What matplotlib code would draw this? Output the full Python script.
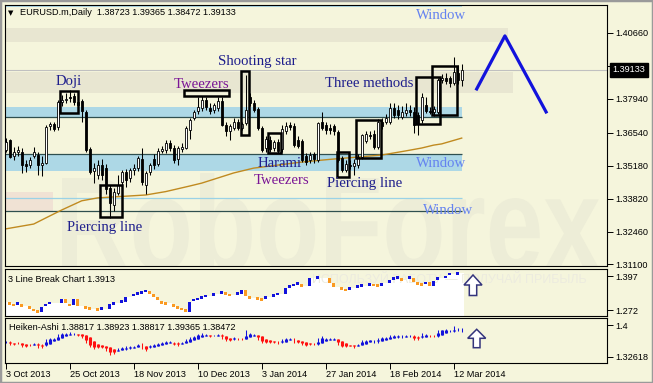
import numpy as np
import matplotlib
matplotlib.use("Agg")
import matplotlib.pyplot as plt
from matplotlib.patches import Rectangle, Polygon, PathPatch
from matplotlib.textpath import TextPath
from matplotlib.font_manager import FontProperties
from matplotlib.transforms import Affine2D

plt.rcParams["font.family"] = ["Liberation Sans", "DejaVu Sans"]

# EURUSD.m daily bars, 3 Oct 2013 .. 14 Mar 2014
opens = [1.3583, 1.3624, 1.3560, 1.3575, 1.3575, 1.3525, 1.3521, 1.3560, 1.3562, 1.3521,
         1.3530, 1.3680, 1.3690, 1.3676, 1.3780, 1.3790, 1.3800, 1.3805, 1.3780, 1.3785,
         1.3740, 1.3585, 1.3495, 1.3480, 1.3520, 1.3510, 1.3425, 1.3356, 1.3405, 1.3450,
         1.3490, 1.3467, 1.3500, 1.3508, 1.3545, 1.3440, 1.3490, 1.3545, 1.3525, 1.3580,
         1.3583, 1.3610, 1.3590, 1.3545, 1.3585, 1.3590, 1.3665, 1.3715, 1.3742, 1.3755,
         1.3790, 1.3755, 1.3748, 1.3755, 1.3785, 1.3686, 1.3660, 1.3675, 1.3700, 1.3675,
         1.3694, 1.3800, 1.3778, 1.3752, 1.3674, 1.3590, 1.3625, 1.3590, 1.3615, 1.3585,
         1.3660, 1.3685, 1.3680, 1.3625, 1.3620, 1.3560, 1.3542, 1.3565, 1.3542, 1.3700,
         1.3686, 1.3675, 1.3680, 1.3657, 1.3550, 1.3500, 1.3522, 1.3515, 1.3521, 1.3555,
         1.3620, 1.3645, 1.3650, 1.3595, 1.3700, 1.3698, 1.3700, 1.3755, 1.3748, 1.3720,
         1.3735, 1.3750, 1.3740, 1.3727, 1.3707, 1.3770, 1.3745, 1.3738, 1.3738, 1.3872,
         1.3882, 1.3880, 1.3860, 1.3900, 1.38723]
highs = [1.3632, 1.3630, 1.3595, 1.3600, 1.3590, 1.3540, 1.3555, 1.3595, 1.3575, 1.3560,
         1.3685, 1.3700, 1.3700, 1.3790, 1.3810, 1.3820, 1.3832, 1.3820, 1.3795, 1.3795,
         1.3750, 1.3595, 1.3530, 1.3540, 1.3545, 1.3525, 1.3440, 1.3425, 1.3480, 1.3500,
         1.3505, 1.3510, 1.3525, 1.3560, 1.3590, 1.3495, 1.3530, 1.3565, 1.3590, 1.3600,
         1.3625, 1.3625, 1.3605, 1.3600, 1.3610, 1.3680, 1.3715, 1.3750, 1.3800, 1.3805,
         1.3800, 1.3775, 1.3775, 1.3800, 1.3800, 1.3700, 1.3690, 1.3715, 1.3710, 1.3700,
         1.3893, 1.3818, 1.3790, 1.3760, 1.3680, 1.3640, 1.3640, 1.3625, 1.3630, 1.3685,
         1.3700, 1.3700, 1.3695, 1.3640, 1.3630, 1.3570, 1.3575, 1.3575, 1.3700, 1.3740,
         1.3700, 1.3690, 1.3690, 1.3665, 1.3560, 1.3540, 1.3540, 1.3545, 1.3565, 1.3650,
         1.3660, 1.3660, 1.3665, 1.3710, 1.3715, 1.3730, 1.3775, 1.3775, 1.3770, 1.3765,
         1.3775, 1.3770, 1.3760, 1.3740, 1.3820, 1.3800, 1.3760, 1.3765, 1.3880, 1.3895,
         1.3900, 1.3890, 1.3967, 1.3935, 1.39365]
lows = [1.3575, 1.3550, 1.3540, 1.3560, 1.3488, 1.3490, 1.3510, 1.3550, 1.3480, 1.3475,
        1.3525, 1.3665, 1.3660, 1.3665, 1.3765, 1.3775, 1.3780, 1.3770, 1.3755, 1.3700,
        1.3575, 1.3485, 1.3445, 1.3465, 1.3460, 1.3400, 1.3300, 1.3330, 1.3395, 1.3440,
        1.3430, 1.3450, 1.3480, 1.3495, 1.3440, 1.3400, 1.3480, 1.3505, 1.3515, 1.3570,
        1.3570, 1.3580, 1.3530, 1.3520, 1.3575, 1.3585, 1.3630, 1.3705, 1.3730, 1.3745,
        1.3750, 1.3730, 1.3735, 1.3745, 1.3680, 1.3640, 1.3624, 1.3665, 1.3665, 1.3665,
        1.3685, 1.3765, 1.3740, 1.3665, 1.3575, 1.3575, 1.3575, 1.3580, 1.3570, 1.3575,
        1.3650, 1.3665, 1.3595, 1.3590, 1.3535, 1.3520, 1.3530, 1.3530, 1.3535, 1.3665,
        1.3650, 1.3650, 1.3645, 1.3535, 1.3490, 1.3490, 1.3505, 1.3480, 1.3510, 1.3545,
        1.3610, 1.3630, 1.3585, 1.3585, 1.3670, 1.3690, 1.3690, 1.3715, 1.3710, 1.3710,
        1.3725, 1.3725, 1.3652, 1.3645, 1.3695, 1.3735, 1.3730, 1.3725, 1.3730, 1.3860,
        1.3855, 1.3845, 1.3850, 1.3855, 1.38472]
closes = [1.3617, 1.3555, 1.3575, 1.3583, 1.3521, 1.3515, 1.3542, 1.3575, 1.3521, 1.3530,
          1.3678, 1.3690, 1.3670, 1.3780, 1.3790, 1.3795, 1.3798, 1.3780, 1.3770, 1.3745,
          1.3583, 1.3490, 1.3510, 1.3520, 1.3480, 1.3420, 1.3365, 1.3410, 1.3440, 1.3490,
          1.3460, 1.3500, 1.3508, 1.3550, 1.3450, 1.3488, 1.3521, 1.3520, 1.3580, 1.3585,
          1.3610, 1.3590, 1.3540, 1.3590, 1.3595, 1.3675, 1.3707, 1.3740, 1.3760, 1.3790,
          1.3760, 1.3745, 1.3768, 1.3785, 1.3686, 1.3660, 1.3680, 1.3700, 1.3675, 1.3690,
          1.3748, 1.3778, 1.3750, 1.3674, 1.3583, 1.3630, 1.3585, 1.3615, 1.3578, 1.3668,
          1.3680, 1.3678, 1.3605, 1.3600, 1.3542, 1.3535, 1.3562, 1.3545, 1.3694, 1.3675,
          1.3665, 1.3665, 1.3660, 1.3542, 1.3500, 1.3525, 1.3517, 1.3530, 1.3555, 1.3645,
          1.3650, 1.3640, 1.3595, 1.3700, 1.3680, 1.3715, 1.3755, 1.3727, 1.3727, 1.3740,
          1.3748, 1.3738, 1.3686, 1.3690, 1.3802, 1.3745, 1.3740, 1.3752, 1.3872, 1.3880,
          1.3866, 1.3860, 1.3905, 1.3872, 1.39133]

# moving average read at some bars
ma_bars = [0, 7, 10, 14, 19, 23, 35, 40, 46, 49, 57, 62, 74, 81, 94, 100, 104, 107, 109, 114]
ma_vals = [1.3257, 1.3277, 1.3302, 1.3335, 1.3373, 1.3385, 1.3397, 1.3411, 1.3434, 1.3446,
           1.3488, 1.3508, 1.3533, 1.3544, 1.3562, 1.3579, 1.3591, 1.3603, 1.3608, 1.3632]

# 3 line break level per bar
lb_vals = [1.3002, 1.2965, 1.2904, 1.2965, 1.2880, 1.2880, 1.2806, 1.2720, 1.2659, 1.2843,
           1.2904, 1.2978, 1.2978, 1.2978, 1.3112, 1.2990, 1.2904, 1.3125, 1.2880, 1.2880,
           1.2806, 1.2769, 1.2769, 1.2745, 1.2769, 1.2769, 1.2929, 1.2965, 1.2965, 1.3027,
           1.3186, 1.3186, 1.3272, 1.3321, 1.3370, 1.3419, 1.3321, 1.3186, 1.3076, 1.3002,
           1.2965, 1.2965, 1.2880, 1.2806, 1.2757, 1.2659, 1.3002, 1.3088, 1.3125, 1.3186,
           1.3235, 1.3235, 1.3296, 1.3296, 1.3357, 1.3321, 1.3272, 1.3272, 1.3321, 1.3455,
           1.3247, 1.3174, 1.3174, 1.3149, 1.3100, 1.3186, 1.3186, 1.3296, 1.3308, 1.3308,
           1.3541, 1.3578, 1.3639, 1.3688, 1.3615, 1.3615, 1.3884, 1.3884, 1.3909, 1.3909,
           1.3909, 1.3700, 1.3578, 1.3578, 1.3517, 1.3455, 1.3517, 1.3517, 1.3578, 1.3615,
           1.3615, 1.3664, 1.3639, 1.3615, 1.3725, 1.3725, 1.3823, 1.3884, 1.3921, 1.3847,
           1.3847, 1.3909, 1.3762, 1.3700, 1.3664, 1.3762, 1.3590, 1.3798, 1.3884, 1.3884,
           1.3982, 1.4044, 1.4044, 1.4068, 1.4068]

# hand drawn forecast zigzag
fc_bars = [117.75, 124.8, 135.1]
fc_prices = [1.3835, 1.4054, 1.3740]

date_ticks = [0, 16, 32, 48, 64, 80, 96, 112]
date_labels = ["3 Oct 2013", "25 Oct 2013", "18 Nov 2013", "10 Dec 2013",
               "3 Jan 2014", "27 Jan 2014", "18 Feb 2014", "12 Mar 2014"]
price_ticks = [1.4066, 1.3930, 1.3794, 1.3654, 1.3518, 1.3382, 1.3246, 1.3110]

W, H = 653, 383
BG = "#f5f5dc"
NAVY = "#1e1e8c"
PURPLE = "#7a1496"
WIN = "#6482f0"
BLUE = "#1212dc"
ORANGE = "#fa9a22"
RED = "#ff1010"

fig = plt.figure(figsize=(W / 100, H / 100), dpi=100, facecolor=BG)
pix = Affine2D().scale(1 / W, -1 / H).translate(0, 1) + fig.transFigure


def py(y):
    # row on the main panel -> price
    return 1.4066 - (y - 33) * 0.000413


def panel(top, bottom):
    a = fig.add_axes([4.5 / W, 1 - bottom / H, 602 / W, (bottom - top) / H])
    a.set_facecolor(BG)
    a.set_xlim(-0.3, 150.2)
    for s in a.spines.values():
        s.set_color("black")
        s.set_linewidth(0.8)
    a.yaxis.tick_right()
    a.tick_params(axis="y", direction="out", length=4, width=0.7, pad=2.5, labelsize=6.6)
    a.tick_params(axis="x", bottom=False, labelbottom=False)
    return a


x = np.arange(len(closes))
o, h, l, c = (np.array(v) for v in (opens, highs, lows, closes))

# ---- main chart
ax = panel(4.5, 265.5)
ax.set_ylim(py(265.5), py(4.5))


def band(x0, x1, p0, p1, color):
    ax.add_patch(Rectangle((x0, p0), x1 - x0, p1 - p0, fc=color, ec="none", zorder=1))


band(-0.3, 114.1, 1.41734, 1.41837, "#add8e6")
band(-0.3, 125.6, 1.40288, 1.40867, "#e8e6d1")
band(-0.3, 126.8, 1.38182, 1.39029, "#e8e6d1")
band(-0.3, 114.1, 1.37211, 1.37604, "#add8e6")
band(-0.3, 114.1, 1.34961, 1.35663, "#add8e6")
band(-0.3, 11.8, 1.33309, 1.34093, "#f0e2d4")
ax.hlines([1.37211, 1.35663, 1.33309], -0.3, 114.1, color="#2f4f4f", lw=0.9, zorder=1.5)
ax.hlines(1.33846, -0.3, 114.1, color="#9ad2e6", lw=0.9, zorder=1.5)
ax.axhline(c[-1], color="#c0c0c0", lw=0.8, zorder=1.5)

# faint RoboForex watermark
fp = FontProperties(family="Liberation Sans", weight="bold")
tp = TextPath((0, 0), "RoboForex", size=1, prop=fp)
ext = tp.get_extents()
cap = TextPath((0, 0), "R", size=1, prop=fp).get_extents().height
wm_tr = Affine2D().translate(-ext.x0, 0).scale(538 / ext.width, -92 / cap).translate(62, 270) + pix
ax.add_patch(PathPatch(tp, transform=wm_tr, fc="#ededd7", ec="none", zorder=0.6))

ax.plot(ma_bars, ma_vals, color="#c08a20", lw=1.0, zorder=2)

up = c >= o
ax.vlines(x, l, h, color="black", lw=0.75, zorder=3)
ax.bar(x, np.abs(c - o), bottom=np.minimum(o, c), width=0.6,
       color=np.where(up, "white", "black"), edgecolor="black", linewidth=0.6, zorder=4)

boxes = [(13.6, 18.1, 1.3736, 1.3826), (44.6, 55.8, 1.3806, 1.3831),
         (58.75, 60.9, 1.3645, 1.3909), (65.6, 68.8, 1.3570, 1.3653),
         (23.6, 29.1, 1.3306, 1.3438), (82.9, 85.8, 1.3471, 1.3575),
         (87.6, 93.8, 1.3550, 1.3707), (102.6, 108.6, 1.3690, 1.3884),
         (106.6, 112.8, 1.3727, 1.3930)]
for x0, x1, p0, p1 in boxes:
    ax.add_patch(Rectangle((x0, p0), x1 - x0, p1 - p0, fill=False, ec="black", lw=1.8, zorder=5))

ax.plot(fc_bars, fc_prices, color=BLUE, lw=2.3, zorder=5)

notes = [("Doji", 69, 81, NAVY, 6), ("Tweezers", 201, 85, PURPLE, 6),
         ("Shooting star", 257.5, 61.7, NAVY, 6), ("Three methods", 369, 83.3, NAVY, 6),
         ("Window", 441.5, 15.7, WIN, 6), ("Window", 441.5, 163.3, WIN, 6),
         ("Window", 448.5, 210.7, WIN, 6), ("Harami", 280, 163.3, NAVY, 2.5),
         ("Tweezers", 281, 180, PURPLE, 6), ("Piercing line", 105, 227.3, NAVY, 6),
         ("Piercing line", 365, 183.3, NAVY, 6)]
for txt, tx, ty, col, z in notes:
    ax.text(tx, ty, txt, transform=pix, ha="center", va="center", color=col,
            family="Liberation Serif", fontsize=10.6, zorder=z)

ax.set_yticks(price_ticks, [f"{v:.5f}" for v in price_ticks])
ax.annotate(f"{c[-1]:.5f}", xy=(1, c[-1]), xycoords=("axes fraction", "data"),
            xytext=(6, 0), textcoords="offset pixels", va="center", ha="left",
            color="white", fontsize=6.6,
            bbox=dict(boxstyle="square,pad=0.3", fc="black", ec="black"))

fig.text(8 / W, 1 - 13 / H, "\u25bc", fontsize=5, va="center", family=["DejaVu Sans"])
fig.text(20 / W, 1 - 12.7 / H, "EURUSD.m,Daily  1.38723 1.39365 1.38472 1.39133",
         fontsize=6.6, va="center")

# ---- 3 line break
ax3 = panel(268.5, 315.5)
base = 1.2518
ax3.set_ylim(base, 1.42457)
lb = np.array(lb_vals)
ax3.stairs(lb, np.arange(len(lb) + 1) - 0.5, baseline=base, fill=True, color="white", zorder=1)
ax3.text(312, 280, "ИСПОЛЬЗУЙ РАБОТУ — ПОЛУЧАЙ ПРИБЫЛЬ", transform=pix, fontsize=9,
         color="#ecebdf", va="center", zorder=2, clip_on=True)
prev = np.r_[lb[0], lb[:-1]]
for i in np.nonzero(lb != prev)[0]:
    lo, hi = min(prev[i], lb[i]), max(prev[i], lb[i])
    if hi - lo < 0.009:
        lo, hi = lb[i] - 0.0045, lb[i] + 0.0045
    ax3.bar(i, hi - lo, bottom=lo, width=0.8, color=BLUE if lb[i] > prev[i] else ORANGE,
            lw=0, zorder=3)
ax3.set_yticks([1.397, 1.272], ["1.397", "1.272"])
ax3.text(8, 279, "3 Line Break Chart 1.3913", transform=pix, fontsize=6.6, va="center", zorder=4)

# ---- heiken ashi
axh = panel(318, 362.5)
axh.set_ylim(1.31349, 1.41615)
ha_c = (o + h + l + c) / 4
ha_o = np.empty_like(ha_c)
ha_o[0] = (o[0] + c[0]) / 2
for i in range(1, len(ha_c)):
    ha_o[i] = (ha_o[i - 1] + ha_c[i - 1]) / 2
ha_h = np.maximum(h, np.maximum(ha_o, ha_c))
ha_l = np.minimum(l, np.minimum(ha_o, ha_c))
ha_col = np.where(ha_c >= ha_o, BLUE, RED)
axh.vlines(x, ha_l, ha_h, colors=ha_col, lw=0.75)
axh.vlines(x, ha_o, ha_c, colors=ha_col, lw=2.2)
axh.set_yticks([1.4, 1.32618], ["1.4", "1.32618"])
axh.text(9, 327.5, "Heiken-Ashi 1.38817 1.38923 1.38817 1.39365 1.38472", transform=pix,
         fontsize=6.6, va="center")
axh.set_xticks(date_ticks, date_labels, ha="left")
axh.tick_params(axis="x", bottom=True, labelbottom=True, direction="out", length=4,
                width=0.7, pad=1.5, labelsize=6.6)

# hollow arrows
for pts in ([(473, 275), (482, 285), (476.7, 285), (476.7, 295.5), (469.3, 295.5),
             (469.3, 285), (464, 285)],
            [(476.7, 329.3), (485.7, 338.3), (480, 338.3), (480, 347.7), (473.3, 347.7),
             (473.3, 338.3), (467.7, 338.3)]):
    fig.add_artist(Polygon(pts, closed=True, fc="white", ec="#34347c", lw=1.1, transform=pix))

fig.add_artist(Rectangle((0, 0), 1, 1, transform=fig.transFigure, fill=False,
                         ec="#9a9a9a", lw=2.5))

fig.savefig("out.png", dpi=100, facecolor=BG)
